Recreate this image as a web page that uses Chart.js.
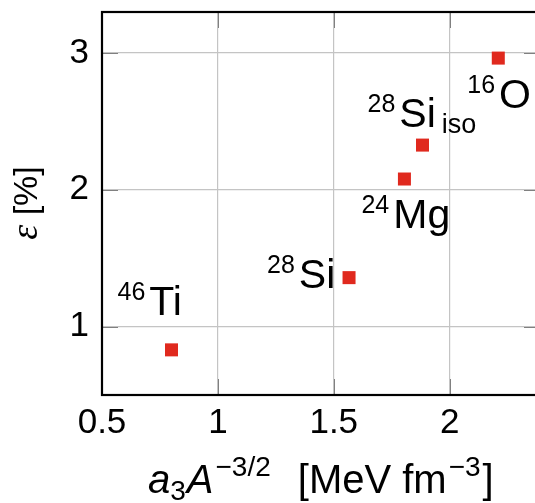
<!DOCTYPE html>
<html>
<head>
<meta charset="utf-8">
<script src="https://cdn.jsdelivr.net/npm/chart.js@4.4.1/dist/chart.umd.min.js"></script>
<style>
  html, body { margin: 0; padding: 0; background: #fff; overflow: hidden; width: 535px; height: 503px; }
  canvas { display: block; }
</style>
</head>
<body>
<canvas id="epsChart" width="550" height="503"></canvas>
<script>
// nuclei: x = a3 A^-3/2 [MeV fm^-3], y = epsilon [%]
const massNumbers = ["46", "28", "24", "28", "16"];
const elements = ["Ti", "Si", "Mg", "Si", "O"];
const subscripts = ["", "", "", "iso", ""];
const xValues = [0.80, 1.566, 1.805, 1.883, 2.21];
const yValues = [0.83, 1.358, 2.079, 2.327, 2.963];

const xTicks = [0.5, 1, 1.5, 2];
const yTicks = [1, 2, 3];

// label placement relative to the marker, in pixels [dx, dy of baseline]
const labelOffsets = [[-54, -35], [-82, 10], [-43, 49], [-55, -18], [-31, 50]];

const FONT = "'Liberation Sans', Arial, sans-serif";

function drawRich(ctx, x, y, parts) {
  // parts: [text, size, dy, style, gap]
  let cx = x;
  parts.forEach(([txt, size, dy, style, gap]) => {
    ctx.font = (style || "") + " " + size + "px " + FONT;
    cx += gap || 0;
    ctx.fillText(txt, cx, y + dy);
    cx += ctx.measureText(txt).width;
  });
  return cx;
}

const decorPlugin = {
  id: "decor",
  afterDraw(chart) {
    const ctx = chart.ctx;
    const area = chart.chartArea;
    const xs = chart.scales.x;
    const ys = chart.scales.y;
    ctx.save();

    // inner tick marks
    ctx.strokeStyle = "#808080";
    ctx.lineWidth = 1;
    ctx.beginPath();
    xTicks.forEach((v) => {
      const px = Math.round(xs.getPixelForValue(v)) + 0.5;
      ctx.moveTo(px, area.bottom); ctx.lineTo(px, area.bottom - 16);
      ctx.moveTo(px, area.top); ctx.lineTo(px, area.top + 16);
    });
    yTicks.forEach((v) => {
      const py = Math.round(ys.getPixelForValue(v)) + 0.5;
      ctx.moveTo(area.left, py); ctx.lineTo(area.left + 16, py);
      ctx.moveTo(area.right, py); ctx.lineTo(area.right - 16, py);
    });
    ctx.stroke();

    // frame
    ctx.strokeStyle = "#000";
    ctx.lineWidth = 2.2;
    ctx.strokeRect(area.left, area.top, area.right - area.left, area.bottom - area.top);

    // nucleus labels
    ctx.fillStyle = "#000";
    ctx.textBaseline = "alphabetic";
    ctx.textAlign = "left";
    xValues.forEach((xv, i) => {
      const px = xs.getPixelForValue(xv) + labelOffsets[i][0];
      const py = ys.getPixelForValue(yValues[i]) + labelOffsets[i][1];
      const parts = [
        [massNumbers[i], 25, -15, ""],
        [elements[i], 41, 0, "", 4]
      ];
      if (subscripts[i]) parts.push([subscripts[i], 27, 6, "", 6]);
      drawRich(ctx, px, py, parts);
    });

    // x axis title
    drawRich(ctx, 148, 493, [
      ["a", 40, 0, "italic"],
      ["3", 28, 7, ""],
      ["A", 40, 0, "italic", 1],
      ["\u22123/2", 28, -17, "", 2],
      ["[MeV fm", 40, 0, "", 27],
      ["\u22123", 28, -17, "", 2],
      ["]", 40, 0, "", 2]
    ]);

    // y axis title, rotated
    ctx.translate(37, 203);
    ctx.rotate(-Math.PI / 2);
    ctx.font = "italic 38px 'Liberation Serif', serif";
    const w1 = ctx.measureText("\u03b5").width;
    ctx.font = "34px " + FONT;
    const w2 = ctx.measureText(" [%]").width;
    const start = -(w1 + w2) / 2;
    ctx.font = "italic 38px 'Liberation Serif', serif";
    ctx.fillText("\u03b5", start, 0);
    ctx.font = "34px " + FONT;
    ctx.fillText(" [%]", start + w1, 0);

    ctx.restore();
  }
};

const ctx = document.getElementById("epsChart").getContext("2d");

new Chart(ctx, {
  type: "scatter",
  data: {
    datasets: [
      {
        data: xValues.map((x, i) => ({ x: x, y: yValues[i] })),
        pointStyle: "rect",
        pointRadius: 9.2,
        pointHoverRadius: 9.2,
        backgroundColor: "#e0291e",
        borderColor: "#e0291e",
        borderWidth: 0,
      },
    ],
  },
  options: {
    responsive: false,
    animation: false,
    events: [],
    layout: { padding: { top: 12, right: 10, left: 0, bottom: 0 } },
    plugins: { legend: { display: false }, tooltip: { enabled: false } },
    scales: {
      x: {
        type: "linear",
        min: 0.5,
        max: 2.39,
        afterBuildTicks: (s) => { s.ticks = xTicks.map((v) => ({ value: v })); },
        afterFit: (s) => { s.height = 108; s.paddingLeft = 0; s.paddingRight = 0; },
        ticks: {
          color: "#000",
          font: { family: FONT, size: 35 },
          padding: 7,
          maxRotation: 0,
          callback: (v) => String(v),
        },
        grid: { color: "#c4c4c4", lineWidth: 1.2, drawTicks: false },
        border: { display: false },
      },
      y: {
        type: "linear",
        min: 0.5,
        max: 3.3,
        afterBuildTicks: (s) => { s.ticks = yTicks.map((v) => ({ value: v })); },
        afterFit: (s) => { s.width = 102; s.paddingTop = 0; s.paddingBottom = 0; },
        ticks: {
          color: "#000",
          font: { family: FONT, size: 35 },
          padding: 13,
          callback: (v) => String(v),
        },
        grid: { color: "#c4c4c4", lineWidth: 1.2, drawTicks: false },
        border: { display: false },
      },
    },
  },
  plugins: [decorPlugin],
});
</script>
</body>
</html>
